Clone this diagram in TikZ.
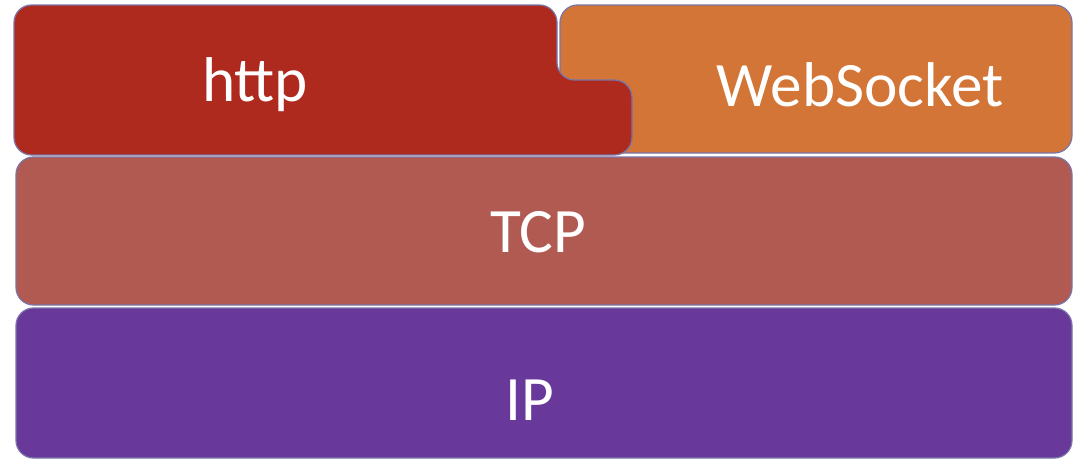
\documentclass[tikz,border=0pt]{standalone}
\usepackage{fontspec}
\setmainfont{Carlito}
\definecolor{httpred}{HTML}{AE2A1F}
\definecolor{wsorange}{HTML}{D27536}
\definecolor{tcpred}{HTML}{B05A52}
\definecolor{ippurple}{HTML}{68389A}
\definecolor{edge}{HTML}{7A74A8}
\begin{document}
\begin{tikzpicture}[x=0.02cm,y=-0.02cm,
  layer/.style={draw=edge,line width=0.7pt,rounded corners=10pt},
  lbl/.style={text=white,font=\fontsize{36}{40}\selectfont,inner sep=0pt}]
  \useasboundingbox (0,0) rectangle (1086,470);
  % WebSocket block
  \path[layer,fill=wsorange] (560,5) rectangle (1072,153);
  % http block with its tab reaching under WebSocket
  \path[layer,fill=httpred] (14,5) -- (557,5) -- (557,80) -- (632,80)
        -- (632,155) -- (14,155) -- cycle;
  % TCP and IP layers
  \path[layer,fill=tcpred] (16,157) rectangle (1072,305);
  \path[layer,fill=ippurple] (16,308) rectangle (1072,458);
  % labels
  \node[lbl] (http) at (255,85) {http};
  \node[lbl] (ws) at (860,85) {WebSocket};
  \node[lbl] (tcp) at (538,232) {TCP};
  \node[lbl] (ip) at (530,400) {IP};
\end{tikzpicture}
\end{document}
